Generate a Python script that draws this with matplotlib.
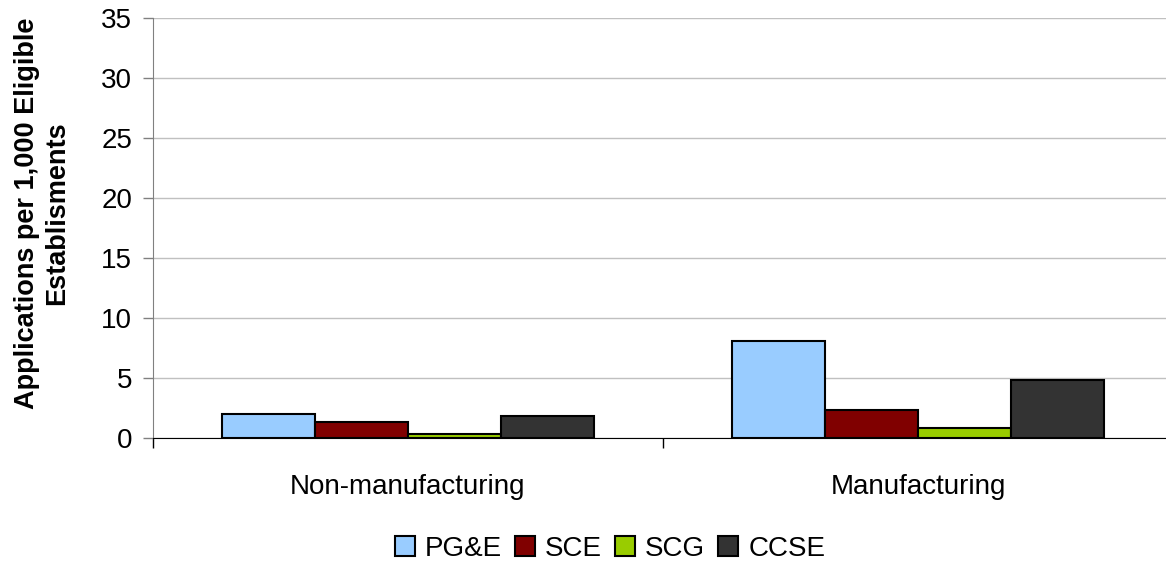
import matplotlib
matplotlib.use("Agg")
import matplotlib.pyplot as plt
import numpy as np
from matplotlib.patches import Patch

categories = ["Non-manufacturing", "Manufacturing"]
series = ["PG&E", "SCE", "SCG", "CCSE"]
pge = [2.0, 8.1]
sce = [1.3, 2.3]
scg = [0.3, 0.8]
ccse = [1.8, 4.8]
colors = ["#99CCFF", "#800000", "#99CC00", "#333333"]
yticks = [0, 5, 10, 15, 20, 25, 30, 35]

plt.rcParams['font.family'] = ['Liberation Sans', 'DejaVu Sans']

fig = plt.figure(figsize=(11.66, 5.65), dpi=100)
ax = fig.add_axes([153/1166, 1-438/565, (1173-153)/1166, (438-18)/565])

x = np.arange(len(categories))
w = 0.182
data = [pge, sce, scg, ccse]
for i, (vals, c) in enumerate(zip(data, colors)):
    ax.bar(x + (i - 1.5) * w, vals, width=w, color=c, edgecolor="black", linewidth=1.5, zorder=3)

ax.set_xlim(-0.5, 1.5)
ax.set_ylim(0, 35)
ax.set_yticks(yticks)
ax.set_yticklabels([str(t) for t in yticks], fontsize=20)
ax.yaxis.grid(True, color="#C0C0C0", linewidth=1, zorder=0)
ax.tick_params(axis='y', length=7, width=1, color="#808080", pad=8)

ax.set_xticks([-0.5, 0.5, 1.5])
ax.set_xticklabels([])
ax.tick_params(axis='x', which='major', length=7, width=1, color="black")
ax.set_xticks(x, minor=True)
ax.set_xticklabels(categories, minor=True, fontsize=20)
ax.tick_params(axis='x', which='minor', length=0, pad=26)

for s in ["top", "right"]:
    ax.spines[s].set_visible(False)
ax.spines["left"].set_color("#808080")
ax.spines["bottom"].set_color("black")
ax.spines["bottom"].set_zorder(4)

ax.set_ylabel("Applications per 1,000 Eligible\nEstablisments", fontsize=19.5, fontweight="bold", linespacing=1.2)
ax.yaxis.set_label_coords(-83/1020, (438-213)/420)

handles = [Patch(facecolor=c, edgecolor="black", linewidth=1.5) for c in colors]
fig.legend(handles, series, loc="center", bbox_to_anchor=(610/1166, 1-549/565), ncol=4, frameon=False,
           fontsize=20, handlelength=0.72, handleheight=0.72, handletextpad=0.36, columnspacing=0.47,
           borderpad=0, borderaxespad=0)

fig.savefig("out.png", dpi=100)
